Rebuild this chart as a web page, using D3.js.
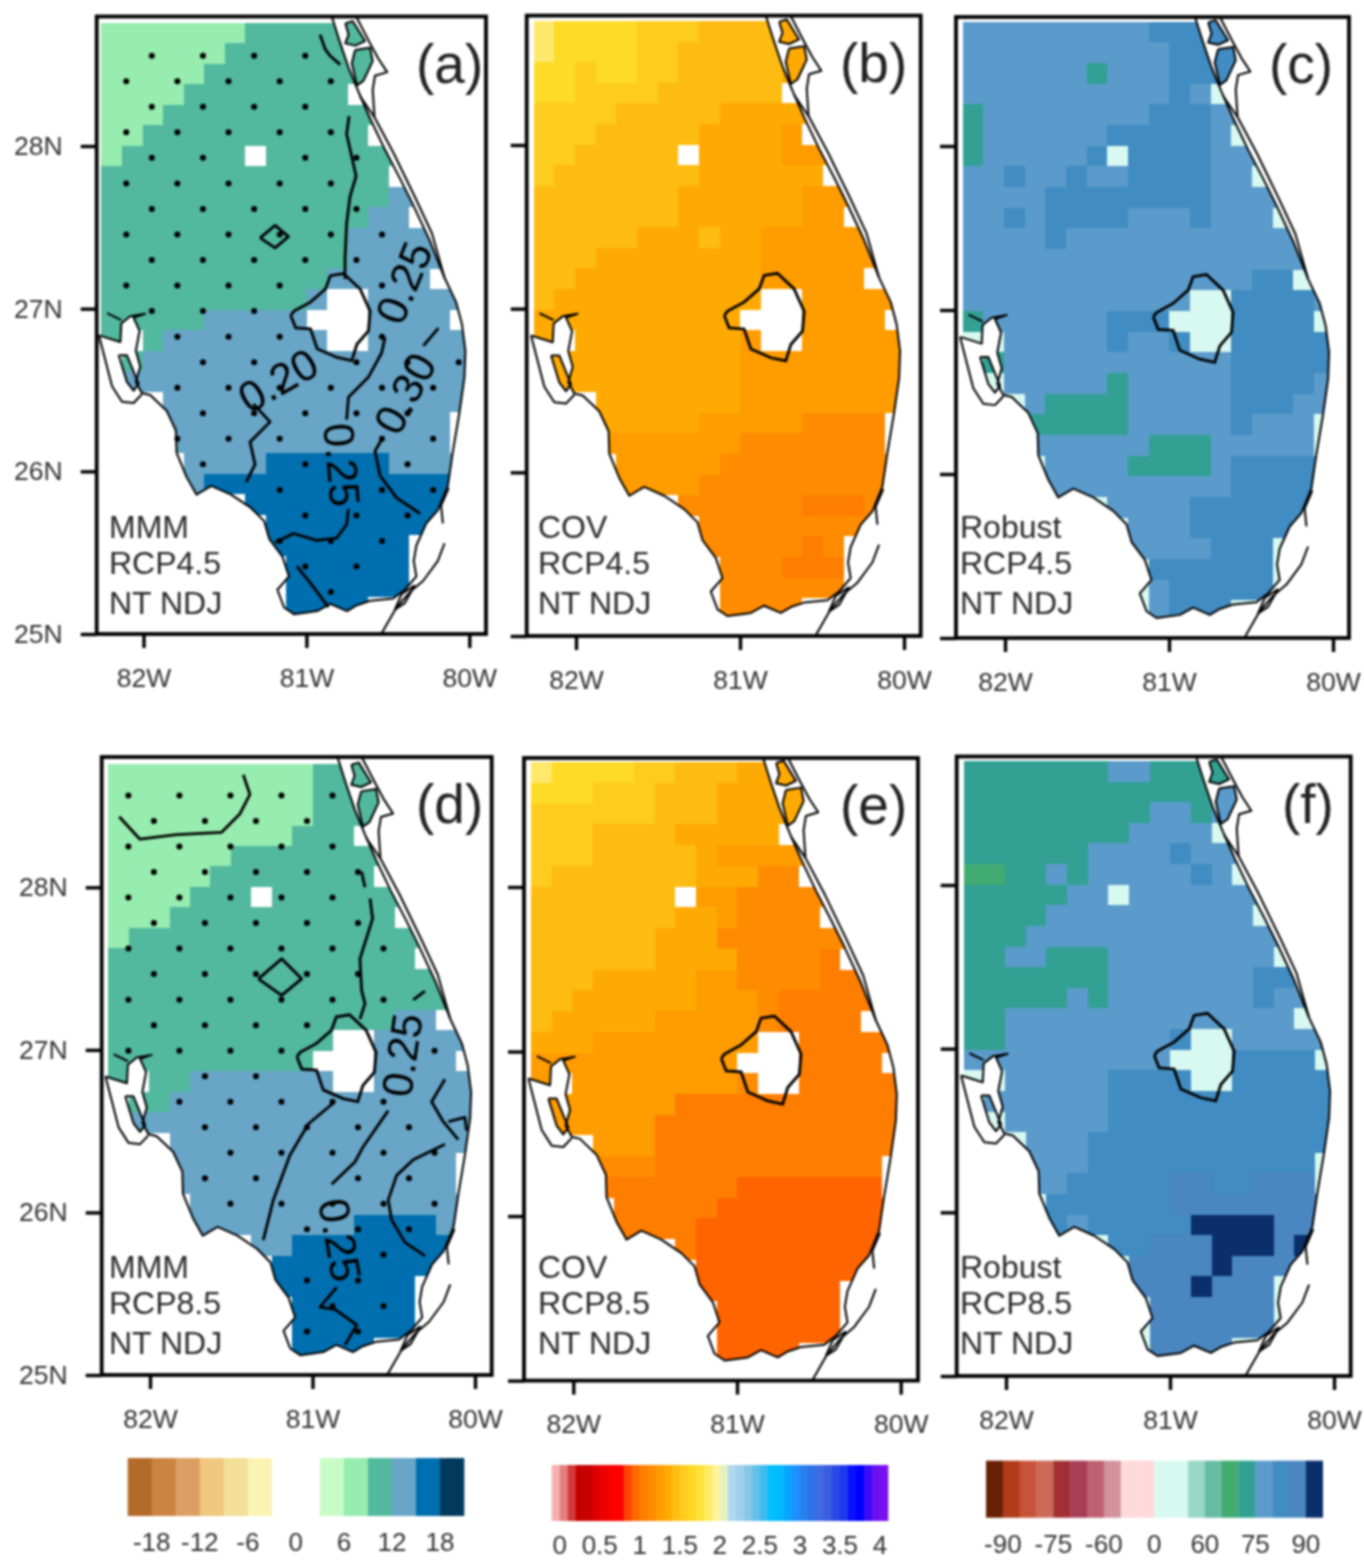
<!DOCTYPE html>
<html>
<head>
<meta charset="utf-8">
<script src="https://cdn.jsdelivr.net/npm/d3@7"></script>
<style>
  body { margin: 0; background: #fff; }
  svg { display: block; filter: blur(1px); font-family: "Liberation Sans", Arial, sans-serif; }
</style>
</head>
<body>
<div id="chart"></div>
<script>
// Data: one row string per latitude band, north to south, one character per grid column
const mmm45 = ["AAAAAAABBBBBBBBBBB","AAAAAABBBBBBBBBBBB","AAAAABBBBBBBBBBBBB","AAAABBBBBBBB.BBBBB","AAABBBBBBBBBBBBBBB","AABBBBBBBBBBB.BBBB","ABBBBBB.BBBBBBBBBB","BBBBBBBBBBBBBB.BBB","BBBBBBBBBBBBBBCCCC","BBBBBBBBBBBBBCC.CC","BBBBBBBBBBBBCCCCCC","BBBBBBBBBBBBCCCCCC","BBBBBBBBBBBCCCCC.C","BBBBBBBBBBC..CCCCC","BBBBBCCCCC...CCCC.","B.BCCCCCCCC..CCCCC",".BCCCCCCCCCCCCCCCC","CCCCCCCCCCCCCCCCCC","CC.CCCCCCCCCCCCCCC","CCCCCCCCCCCCCCCCC.","CCCCCCCCCCCCCCCCC.","CCC.CCCCDDDDDDCCCC","CCCCCDDDDDDDDDDDDD","CCCCCC.DDDDDDDDDDD","CCCCCCC.DDDDDDDDDD","CCCCCCCCDDDDDDD...","CCCCCCCC.DDDDDD...","CCCCCCCC.DDDDDD...","CCCCCCCC.DDDD....."]
const cov45 = ["122223334444555555","122223344444555555","223223344444555555","223333444444.55555","333344444555555555","3334444455556.6666","3344444.5555666666","34444444555555.666","444444455555566666","444444455555566.66","444445554556666666","444555555556666666","4455555555566666.6","45555555555..66666","5555555555...6666.","5.555555556..66666","555555555566666666","555555555566666666","55.555555566666666","55555555666667777.","66666666667777777.","666.66666777777777","666666667777777777","666666.77777788877","6666666.7777777777","666666667777787...","66666666.777888...","66666666.777777...","66666666.7777....."]
const rob45 = ["mmmmmmmmmdddddmmmm","mmmmmmmmmmddddmmmm","mmmmmmgmmmddddmmmm","mmmmmmmmmmdmpmmmmm","gmmmmmmmmdddmmmmmm","gmmmmmmdddddmpmmmm","gmmmmmdpddddmmmmmm","mmdmmdmmddddmmpmmm","mmmmddddddddmmmmmm","mmdmddddmmmdmmmpmm","mmmmdmmmmmmmmmmmmm","mmmmmmmmmmmmmmmmmm","mmmmmmmmmmmmmmddpm","mmmmmmmmmmmppddddm","gmmmmmmdddpppddddp","ppmmmmmdmmdppddddd","pgmmmmmmmmmmmddddd","ppmmmmmgmmmmmddddm","pmpmggggmmmmmdddmm","mmmgggggmmmmmdmmmp","mmmmmmmmmgggmmmmmp","mmmpmmmmggggmddddm","mmmmmmmmmmmmmddddm","mmmmmmpmmmmddddddm","mmmmmmmpmmmdddddmm","mmmmmmmmmmmmdddpmm","mmmmmmmmpddddddpmm","mmmmmmmmpmdddddppp","mmmmmmmmpmdddppmmm"]
const mmm85 = ["AAAAAAAAAABBBBBBBB","AAAAAAAAAABBBBBBBB","AAAAAAAAAABBBBBBBB","AAAAAAAAABBB.BBBBB","AAAAAABBBBBBBBBBBB","AAAAABBBBBBBB.BBBB","AAAABBB.BBBBBBBBBB","AAABBBBBBBBBBB.BBB","ABBBBBBBBBBBBBBBBB","BBBBBBBBBBBBBBB.BB","BBBBBBBBBBBBBBBBBB","BBBBBBBBBBBBBBBBBB","BBBBBBBBBBBBBBCC.C","BBBBBBBBBBB..CCCCC","BBBBBBBBBB...CCCC.","B.BBCCCCCCC..CCCCC",".BBCCCCCCCCCCCCCCC","CCCCCCCCCCCCCCCCCC","CC.CCCCCCCCCCCCCCC","CCCCCCCCCCCCCCCCC.","CCCCCCCCCCCCCCCCC.","CCC.CCCCCCCCCCCCCC","CCCCCCCCCCCCDDDDCC","CCCCCC.CCDDDDDDDDD","CCCCCCC.DDDDDDDDDD","CCCCCCCCDDDDDDD...","CCCCCCCC.DDDDDD...","CCCCCCCC.DDDDDD...","CCCCCCCC.DDDD....."]
const cov85 = ["122223344455555555","222333444555555555","333333444555555555","333444455555.55555","333444445666666666","3444444455577.7777","4444444.6677777777","44444445567777.777","444444555777777777","444444555577778.77","444555556677778888","445555556667888888","4555556666678888.8","55566666666..88888","6666666666...8888.","6.666666667..88888","666666688888888888","666666888888888888","66.666888888888888","77777788888888888.","88888888889999999.","888.88888999999999","888888889999999999","888888.89999999999","8888888.9999999999","888888889999999...","88888888.999999...","88888888.999999...","88888888.9999....."]
const rob85 = ["gggggggmmggggggggg","ggggggggggggmmmmmm","gggggggggmmgmmmmmm","ggggggggmmmmpmmmmm","ggggggmmmmdmmmmmmm","GGggmgmmmmmdmpmmmm","gggggmmpmmmmmmmmmm","ggggmmmmmmmmmmpmmm","gggmmmmmmmmmmmmmmm","ggmmgggmmmmmmmmpmm","gggggggmmmmmmmddmm","gggggmgmmmmmmmdmmm","ggmmmmmmmmmmmmmmpm","ggmmmmmmmmdppmmmmm","mmmmmmmmmmpppddddp","ppmmmmmddddppddddd","pmmmmmmddddddddddd","ppmmmmmddddddddddd","mmpmmmdddddddddddd","mmmmmmdddddddddddp","mmmmmdddddbbddbbbp","mmmpddddddbbbbbbbb","mmmmdmdddddnnnnbbb","mmmmmmpddbbbnnnbnb","mmmmmmmpbbbbnbbbbb","mmmmmmmmbbbnbbbpbb","mmmmmmmmpbbbbbbpbb","mmmmmmmmpbbbbbbpbb","mmmmmmmmpbbbbppbbb"]

// Stippled grid points: for each row, the column numbers that carry a dot
const dots45 = [[1,3,5,7],[0,2,4,6,8],[1,3,5,7],[0,2,4,6,8],[1,3,7,9],[0,2,4,6,8],[1,3,5,7,9],[0,2,4,6,8,10],[1,3,5,7,9],[0,2,4,6,10],[1,3,5],[2,4,6,10],[3,5,9,11,13],[2,4,6,8,10,12],[3,5,7,9,11],[2,4,6,10,12],[3,7,11],[6,10,12],[7,9,11],[6,8,10],[7,9],[8]]
const dots85 = [[0,2,4,6,8],[1,3,5,7],[0,2,4,6,8],[1,3,5,7,9],[0,2,4,6,8],[1,3,5,7,9],[0,2,4,6,8,10],[1,3,5,7,9],[0,2,4,6,8,10],[1,3,5,7],[0,2,4,6,12],[3,5],[2,4,6,8,10],[3,5,7,9,11],[4,6,8,10,12],[3,5,9,11],[4,6,8,10,12],[7,9,11],[10],[7,9],[8,10],[7,9]]

// Contour lines of panels a and d, [lon, lat]
const contours45 = [
  [[-80.916,28.684],[-80.885,28.596],[-80.855,28.555],[-80.793,28.5]],
  [[-80.738,28.184],[-80.753,28.074],[-80.722,27.937],[-80.695,27.814],[-80.732,27.69],[-80.753,27.525],[-80.763,27.306],[-80.763,27.182]],
  [[-81.284,27.435],[-81.192,27.512],[-81.11,27.443],[-81.192,27.374],[-81.284,27.435]],
  [[-80.517,26.825],[-80.538,26.729],[-80.62,26.578],[-80.742,26.455],[-80.753,26.318]],
  [[-81.325,26.414],[-81.223,26.304],[-81.346,26.18],[-81.315,26.043],[-81.37,25.933]],
  [[-80.19,26.88],[-80.282,26.771]],
  [[-80.538,26.194],[-80.579,26.125],[-80.548,25.974],[-80.446,25.837],[-80.303,25.741]],
  [[-81.192,25.563],[-81.08,25.618],[-80.937,25.576],[-80.814,25.59],[-80.753,25.673],[-80.742,25.769]],
  [[-81.059,25.417],[-80.967,25.302],[-80.865,25.165]]
]
const contours85 = [
  [[-82.189,28.434],[-82.062,28.296],[-81.836,28.324],[-81.559,28.338],[-81.446,28.453],[-81.385,28.571],[-81.426,28.692]],
  [[-81.333,27.437],[-81.19,27.56],[-81.067,27.437],[-81.19,27.335],[-81.333,27.437]],
  [[-80.698,28.096],[-80.677,28]],
  [[-80.646,27.931],[-80.63,27.807],[-80.708,27.56],[-80.698,27.368],[-80.677,27.285],[-80.708,27.189]],
  [[-80.38,27.307],[-80.308,27.362]],
  [[-80.862,26.681],[-81.026,26.544],[-81.139,26.352],[-81.241,26.077],[-81.303,25.83]],
  [[-80.534,26.626],[-80.687,26.406],[-80.739,26.31],[-80.882,26.173]],
  [[-80.185,26.819],[-80.267,26.681],[-80.195,26.558],[-80.103,26.448]],
  [[-80.164,26.558],[-80.062,26.585],[-80.052,26.503]],
  [[-80.185,26.42],[-80.38,26.324],[-80.482,26.228],[-80.534,26.077],[-80.513,25.953],[-80.431,25.816],[-80.308,25.733]],
  [[-80.851,25.541],[-80.954,25.418],[-80.862,25.404],[-80.728,25.308],[-80.8,25.184]]
]
// Contour labels: [text, lon, lat, angle]
const labels45 = [["0.25",-80.402,27.16,-68],["0.30",-80.396,26.479,-62],["0.20",-81.175,26.558,-30],["0.25",-80.782,26.04,85]]
const labels85 = [["0.25",-80.449,26.968,-82],["0.25",-80.831,25.83,80]]

// Map outlines, [lon, lat]
const coast = [[-80.857,28.835],[-80.792,28.631],[-80.741,28.481],[-80.68,28.332],[-80.609,28.169],[-80.518,27.978],[-80.426,27.801],[-80.345,27.638],[-80.244,27.421],[-80.152,27.19],[-80.081,27.04],[-80.045,26.904],[-80.024,26.741],[-80.03,26.578],[-80.061,26.36],[-80.102,26.115],[-80.132,25.911],[-80.193,25.762],[-80.264,25.68],[-80.325,25.544],[-80.341,25.449],[-80.325,25.354],[-80.396,25.272],[-80.467,25.218],[-80.609,25.204],[-80.69,25.177],[-80.751,25.141],[-80.853,25.185],[-80.934,25.141],[-81.076,25.122],[-81.137,25.163],[-81.178,25.272],[-81.107,25.354],[-81.147,25.476],[-81.228,25.585],[-81.259,25.694],[-81.34,25.775],[-81.462,25.857],[-81.584,25.911],[-81.675,25.857],[-81.736,25.966],[-81.797,26.115],[-81.801,26.251],[-81.858,26.373],[-81.959,26.469],[-82.01,26.482],[-82.047,26.55],[-82.02,26.645],[-82.047,26.741],[-82.024,26.863],[-82.061,26.945],[-81.99,26.969],[-82.081,26.953],[-82.136,26.909],[-82.142,26.795],[-82.274,26.836]]
const landCorners = [[-82.5,26.836],[-82.5,28.9],[-80.857,28.9]]
const barrierSouth = [[-82.274,26.836],[-82.193,26.523],[-82.132,26.428],[-82.061,26.42],[-82.01,26.474]]
const bayNorth = [[-82.223,26.972],[-82.136,26.93]]
const barrierEast = [[-80.715,28.835],[-80.609,28.631],[-80.558,28.536],[-80.504,28.454],[-80.579,28.432],[-80.593,28.345],[-80.582,28.177],[-80.462,27.951],[-80.33,27.679],[-80.229,27.462],[-80.152,27.19]]
const barrierLink = [[-80.67,28.305],[-80.582,28.177]]
const merrittNorth = [[-80.761,28.754],[-80.715,28.767],[-80.64,28.645],[-80.701,28.617],[-80.761,28.631],[-80.741,28.686]]
const merrittSouth = [[-80.701,28.59],[-80.609,28.604],[-80.593,28.522],[-80.65,28.4],[-80.69,28.373],[-80.721,28.509]]
const harborIsland = [[-82.152,26.714],[-82.102,26.714],[-82.03,26.537],[-82.061,26.496],[-82.102,26.55]]
const lake = [[-81.096,26.958],[-81.076,26.985],[-80.975,27.04],[-80.883,27.121],[-80.853,27.203],[-80.772,27.216],[-80.67,27.121],[-80.609,26.985],[-80.619,26.863],[-80.69,26.781],[-80.721,26.681],[-80.812,26.7],[-80.934,26.754],[-80.975,26.876],[-81.066,26.882],[-81.096,26.958]]
const keysNorth = [[-80.126,25.898],[-80.173,25.789],[-80.162,25.68]]
const keysSouth = [[-80.152,25.558],[-80.193,25.449],[-80.284,25.326],[-80.365,25.258],[-80.447,25.163],[-80.538,25.005]]
const keysLoop = [[-80.335,25.299],[-80.416,25.245],[-80.457,25.15],[-80.396,25.19],[-80.335,25.299]]

// Cell classes and their colours
const mmmCodes = ["A","B","C","D"]
const mmmColors = ["#97ecaf","#52b89e","#68a5c7","#006faf"]
const covCodes = ["1","2","3","4","5","6","7","8","9"]
const covColors = ["#ffe86a","#fedb26","#fecb1f","#febb12","#ffaa03","#ff9c00","#ff8c00","#ff7e00","#ff6400"]
const robCodes = ["p","G","g","m","d","b","n"]
const robColors = ["#d8f9f2","#41ab72","#32a194","#5b9bcb","#418cc2","#4a86c0","#0a2f6a"]

// Colour bars
const mmmBarEdges = d3.range(-21, 22, 3)
const mmmBarColors = ["#b36b2a","#cc8540","#dc9e62","#f0c87f","#f2e098","#fbf3b4","#ffffff","#ffffff","#c9fbc6","#97ecaf","#52b89e","#68a5c7","#006faf","#003a5c"]
const mmmBarTicks = [-18,-12,-6,0,6,12,18]
const covBarEdges = d3.range(0, 43).map(i => +(i / 10 - 0.1).toFixed(1))
const covBarColors = ["#f7b0b0","#e57f7f","#d33a3a","#c40000","#c80000","#dc0000","#ee0000","#fa0000","#ff0000","#ff4500","#ff6a00","#ff7f00","#ff8c00","#ff9d00","#ffaa00","#ffbf12","#ffcc20","#ffd820","#ffe23c","#ffea60","#fef49a","#e8f0c0","#aed8ee","#a0d0ec","#86c8e8","#66c0e8","#3cbcf0","#00bfff","#00bbff","#0aa4ff","#1e90ff","#2a80f0","#3072e8","#4169e1","#3a5ce0","#2a48e6","#1e38ee","#0a10fa","#0000ff","#3a0cf8","#6c10f0","#7a10f0"]
const covBarTicks = [0,0.5,1,1.5,2,2.5,3,3.5,4]
const robBarEdges = [-95,-90,-85,-80,-75,-70,-65,-60,-40,-20,0,20,40,60,65,70,75,80,85,90,95]
const robBarColors = ["#6a2005","#b03c1a","#c9533a","#cc6a58","#a32f34","#a83d58","#be6070","#d3929c","#fed9d9","#fed9d9","#d8f9f2","#d8f9f2","#98d8c6","#66bca0","#41ab72","#32a194","#5b9bcb","#418cc2","#4a86c0","#0a2f6a"]
const robBarTicks = [-90,-75,-60,0,60,75,90]

const gridLon0 = -82.258, gridLat0 = 28.758, gridStep = 0.126
const dotStep = 0.157
const topTextY = [538, 574, 614], bottomTextY = [1278, 1314, 1354]

const panels = [
  { tag: "(a)", tagX: 416, lines: ["MMM","RCP4.5","NT NDJ"], textX: 109, textY: topTextY, left: 96.7, right: 486, top: 16.5, bottom: 634, x82: 143.5, x80: 469.3, y28: 146, y25: 634, grid: mmm45, codes: mmmCodes, colors: mmmColors, lat: true, dots: dots45, dotLon: -82.106, dotLat: 28.555, contours: contours45, labels: labels45 },
  { tag: "(b)", tagX: 840, lines: ["COV","RCP4.5","NT NDJ"], textX: 538, textY: topTextY, left: 526.7, right: 920.7, top: 15.6, bottom: 636, x82: 576, x80: 904, y28: 145, y25: 636, grid: cov45, codes: covCodes, colors: covColors },
  { tag: "(c)", tagX: 1269, lines: ["Robust","RCP4.5","NT NDJ"], textX: 960, textY: topTextY, left: 956, right: 1349, top: 17, bottom: 638, x82: 1005, x80: 1333, y28: 146, y25: 638, grid: rob45, codes: robCodes, colors: robColors },
  { tag: "(d)", tagX: 416, lines: ["MMM","RCP8.5","NT NDJ"], textX: 109, textY: bottomTextY, left: 101.7, right: 491.7, top: 757, bottom: 1375, x82: 150, x80: 475, y28: 887.3, y25: 1375, grid: mmm85, codes: mmmCodes, colors: mmmColors, lat: true, dots: dots85, dotLon: -82.133, dotLat: 28.565, contours: contours85, labels: labels85 },
  { tag: "(e)", tagX: 840, lines: ["COV","RCP8.5","NT NDJ"], textX: 538, textY: bottomTextY, left: 524, right: 918, top: 758, bottom: 1380.6, x82: 573.3, x80: 900.7, y28: 887, y25: 1380.6, grid: cov85, codes: covCodes, colors: covColors },
  { tag: "(f)", tagX: 1282, lines: ["Robust","RCP8.5","NT NDJ"], textX: 960, textY: bottomTextY, left: 956.7, right: 1350.7, top: 756.5, bottom: 1376, x82: 1006, x80: 1334, y28: 885, y25: 1376, grid: rob85, codes: robCodes, colors: robColors }
]

const svg = d3.select("#chart").append("svg").attr("width", 1364).attr("height", 1560)

panels.forEach((p, n) => {
  const x = d3.scaleLinear().domain([-82, -80]).range([p.x82, p.x80])
  const y = d3.scaleLinear().domain([25, 28]).range([p.y25, p.y28])
  const color = d3.scaleOrdinal().domain(p.codes).range(p.colors)
  const line = d3.line().x(d => x(d[0])).y(d => y(d[1]))

  // clip paths: the frame, and the land polygons inside it
  const defs = svg.append("defs")
  defs.append("clipPath").attr("id", `frame${n}`).append("rect")
    .attr("x", p.left).attr("y", p.top).attr("width", p.right - p.left).attr("height", p.bottom - p.top)
  const land = defs.append("clipPath").attr("id", `land${n}`)
  const landShapes = [coast.concat(landCorners), merrittNorth, merrittSouth, harborIsland]
  land.selectAll("path").data(landShapes).join("path").attr("d", d => line(d) + "Z")

  const frameG = svg.append("g").attr("clip-path", `url(#frame${n})`)

  // grid cells
  const cells = []
  p.grid.forEach((row, r) => {
    row.split("").forEach((code, c) => {
      if (code !== ".") cells.push({ code, lon: gridLon0 + c * gridStep, lat: gridLat0 - r * gridStep })
    })
  })
  frameG.append("g").attr("clip-path", `url(#land${n})`)
    .selectAll("rect").data(cells).join("rect")
    .attr("x", d => x(d.lon))
    .attr("y", d => y(d.lat))
    .attr("width", d => x(d.lon + gridStep) - x(d.lon))
    .attr("height", d => y(d.lat - gridStep) - y(d.lat))
    .attr("fill", d => color(d.code))
    .attr("shape-rendering", "crispEdges")

  // stippling
  if (p.dots) {
    const pts = p.dots.flatMap((cols, j) => cols.map(i => [p.dotLon + i * dotStep, p.dotLat - j * dotStep]))
    frameG.append("g").selectAll("circle").data(pts).join("circle")
      .attr("cx", d => x(d[0])).attr("cy", d => y(d[1])).attr("r", 3).attr("fill", "#000")
  }

  // outlines
  const outlines = [coast, barrierSouth, bayNorth, barrierEast, barrierLink, merrittNorth.concat([merrittNorth[0]]), merrittSouth.concat([merrittSouth[0]]), harborIsland.concat([harborIsland[0]]), keysNorth, keysSouth, keysLoop]
  frameG.append("g").selectAll("path").data(outlines).join("path")
    .attr("d", line).attr("fill", "none").attr("stroke", "#000").attr("stroke-width", 2).attr("stroke-linejoin", "round")
  frameG.append("path").attr("d", line(lake)).attr("fill", "none").attr("stroke", "#000").attr("stroke-width", 2.8)

  // contours
  if (p.contours) {
    frameG.append("g").selectAll("path").data(p.contours).join("path")
      .attr("d", line).attr("fill", "none").attr("stroke", "#000").attr("stroke-width", 2.8).attr("stroke-linejoin", "round")
    frameG.append("g").selectAll("text").data(p.labels).join("text")
      .attr("transform", d => `translate(${x(d[1])},${y(d[2])}) rotate(${d[3]})`)
      .attr("text-anchor", "middle").attr("dominant-baseline", "central")
      .attr("font-size", 43).attr("fill", "#000")
      .text(d => d[0])
  }

  // frame
  svg.append("rect")
    .attr("x", p.left).attr("y", p.top).attr("width", p.right - p.left).attr("height", p.bottom - p.top)
    .attr("fill", "none").attr("stroke", "#000").attr("stroke-width", 3.8)

  // axes
  const xAxis = d3.axisBottom(x).tickValues([-82, -81, -80]).tickFormat(d => `${-d}W`).tickSize(14).tickPadding(20)
  const xG = svg.append("g").attr("transform", `translate(0,${p.bottom})`).call(xAxis)
  const yAxis = d3.axisLeft(y).tickValues([25, 26, 27, 28]).tickFormat(d => p.lat ? `${d}N` : "").tickSize(16).tickPadding(18)
  const yG = svg.append("g").attr("transform", `translate(${p.left},0)`).call(yAxis)
  ;[xG, yG].forEach(g => {
    g.select(".domain").remove()
    g.selectAll("line").attr("stroke", "#000").attr("stroke-width", 3.4)
    g.selectAll("text").attr("font-size", 26.5).attr("fill", "#333")
  })

  // panel texts
  svg.append("text").attr("x", p.tagX).attr("y", p.top + 66).attr("font-size", 55).attr("fill", "#222").text(p.tag)
  svg.append("g").selectAll("text").data(p.lines).join("text")
    .attr("x", p.textX)
    .attr("y", (d, i) => p.textY[i])
    .attr("font-size", 32).attr("fill", "#2a2a2a")
    .text(d => d)
})

// Colour bars
function drawBar(scale, edges, colors, ticks, top, height, labelY) {
  const bar = svg.append("g")
  bar.selectAll("rect").data(colors).join("rect")
    .attr("x", (d, i) => scale(edges[i]))
    .attr("y", top)
    .attr("width", (d, i) => scale(edges[i + 1]) - scale(edges[i]) + 0.3)
    .attr("height", height)
    .attr("fill", d => d)
  bar.selectAll("text").data(ticks).join("text")
    .attr("x", d => scale(d))
    .attr("y", labelY)
    .attr("text-anchor", "middle")
    .attr("font-size", 26)
    .attr("fill", "#333")
    .text(d => d)
}

const mmmBarScale = d3.scaleLinear().domain([-21, 21]).range([127.7, 464])
drawBar(mmmBarScale, mmmBarEdges, mmmBarColors, mmmBarTicks, 1458, 58, 1551)
const covBarScale = d3.scaleLinear().domain([-0.1, 4.1]).range([551.7, 888])
drawBar(covBarScale, covBarEdges, covBarColors, covBarTicks, 1465, 56, 1554)
const robBarScale = d3.scalePoint().domain(robBarEdges).range([986, 1322.7])
drawBar(robBarScale, robBarEdges, robBarColors, robBarTicks, 1460.7, 57, 1553)
</script>
</body>
</html>
